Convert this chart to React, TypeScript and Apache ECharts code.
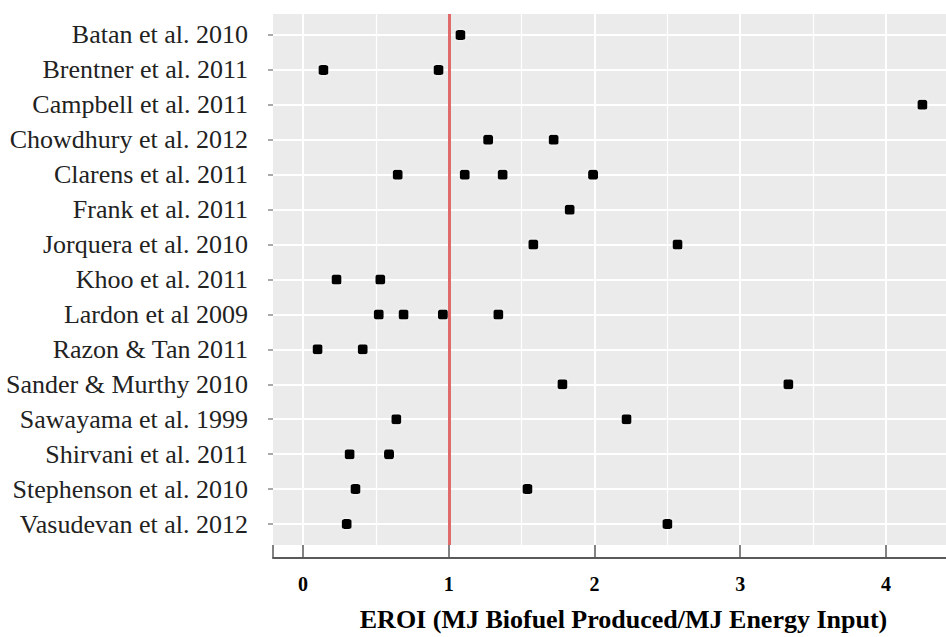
import React, { useEffect, useRef } from "react";
import * as echarts from "echarts";

const studies = [
  "Batan et al. 2010",
  "Brentner et al. 2011",
  "Campbell et al. 2011",
  "Chowdhury et al. 2012",
  "Clarens et al. 2011",
  "Frank et al. 2011",
  "Jorquera et al. 2010",
  "Khoo et al. 2011",
  "Lardon et al 2009",
  "Razon & Tan 2011",
  "Sander & Murthy 2010",
  "Sawayama et al. 1999",
  "Shirvani et al. 2011",
  "Stephenson et al. 2010",
  "Vasudevan et al. 2012",
];

const eroiValues: number[][] = [
  [1.08],
  [0.14, 0.93],
  [4.25],
  [1.27, 1.72],
  [0.65, 1.11, 1.37, 1.99],
  [1.83],
  [1.58, 2.57],
  [0.23, 0.53],
  [0.52, 0.69, 0.96, 1.34],
  [0.1, 0.41],
  [1.78, 3.33],
  [0.64, 2.22],
  [0.32, 0.59],
  [0.36, 1.54],
  [0.3, 2.5],
];

const xTickLabels = [0, 1, 2, 3, 4];
const xGridValues = [0, 0.5, 1, 1.5, 2, 2.5, 3, 3.5, 4];
const eroiThreshold = 1;
const xMin = -0.206;
const xMax = 4.412;

const FONT = '"Liberation Serif", "Times New Roman", serif';

export default function App() {
  const ref = useRef<HTMLDivElement>(null);

  useEffect(() => {
    document.body.style.margin = "0";
    const chart = echarts.init(ref.current!, null, { renderer: "svg" });
    const rowIdx = studies.map((_, i) => i);

    const points: number[][] = [];
    eroiValues.forEach((vals, i) => vals.forEach((v) => points.push([v, i])));

    const gridLines: any[] = [
      ...xGridValues.map((v) => ({
        xAxis: v,
        lineStyle: { color: "#ffffff", width: Number.isInteger(v) ? 2 : 1.2, type: "solid" },
      })),
      ...rowIdx.map((i) => ({
        yAxis: i,
        lineStyle: { color: "#ffffff", width: 2, type: "solid" },
      })),
    ];

    const markBase = {
      silent: true,
      symbol: ["none", "none"],
      label: { show: false },
      emphasis: { disabled: true },
      lineStyle: { type: "solid" },
    };

    chart.setOption({
      animation: false,
      grid: {
        left: 273,
        top: 14,
        right: 0,
        bottom: 88,
        show: true,
        backgroundColor: "#ebebeb",
        borderWidth: 0,
      },
      xAxis: {
        type: "value",
        min: xMin,
        max: xMax,
        position: "bottom",
        offset: 13,
        axisLine: { show: true, onZero: false, lineStyle: { color: "#5a5a5a", width: 2 } },
        axisTick: {
          show: true,
          inside: true,
          length: 13,
          customValues: [xMin, ...xTickLabels],
          lineStyle: { color: "#5a5a5a", width: 1.5 },
        },
        axisLabel: {
          customValues: xTickLabels,
          formatter: (v: number) => String(v),
          fontFamily: FONT,
          fontWeight: "bold",
          fontSize: 20,
          color: "#000",
          margin: 16,
        },
        splitLine: { show: false },
        name: "EROI (MJ Biofuel Produced/MJ Energy Input)",
        nameLocation: "middle",
        nameGap: 48,
        nameTextStyle: {
          fontFamily: FONT,
          fontWeight: "bold",
          fontSize: 26,
          color: "#000",
          padding: [0, 0, 0, 28],
        },
      },
      yAxis: {
        type: "value",
        inverse: true,
        min: -0.6,
        max: 14.6,
        axisLine: { show: false, onZero: false },
        axisTick: {
          show: true,
          length: 5,
          customValues: rowIdx,
          lineStyle: { color: "#8c8c8c", width: 1.5 },
        },
        axisLabel: {
          customValues: rowIdx,
          formatter: (v: number) => studies[Math.round(v)] ?? "",
          fontFamily: FONT,
          fontSize: 26,
          color: "#222",
          margin: 25,
        },
        splitLine: { show: false },
      },
      series: [
        {
          type: "scatter",
          z: 3,
          data: points,
          symbol: "roundRect",
          symbolSize: 10,
          itemStyle: {
            color: "#000000",
            opacity: 1,
            shadowColor: "rgba(255,255,255,0.9)",
            shadowBlur: 3,
          },
          emphasis: { disabled: true },
          markLine: { ...markBase, z: 1, data: gridLines },
        },
        {
          type: "scatter",
          z: 4,
          data: [],
          markLine: {
            ...markBase,
            z: 6,
            data: [
              {
                xAxis: eroiThreshold,
                lineStyle: { color: "#e06a6a", width: 3, type: "solid" },
              },
            ],
          },
        },
      ],
    });

    return () => chart.dispose();
  }, []);

  return <div ref={ref} style={{ width: 946, height: 637 }} />;
}
